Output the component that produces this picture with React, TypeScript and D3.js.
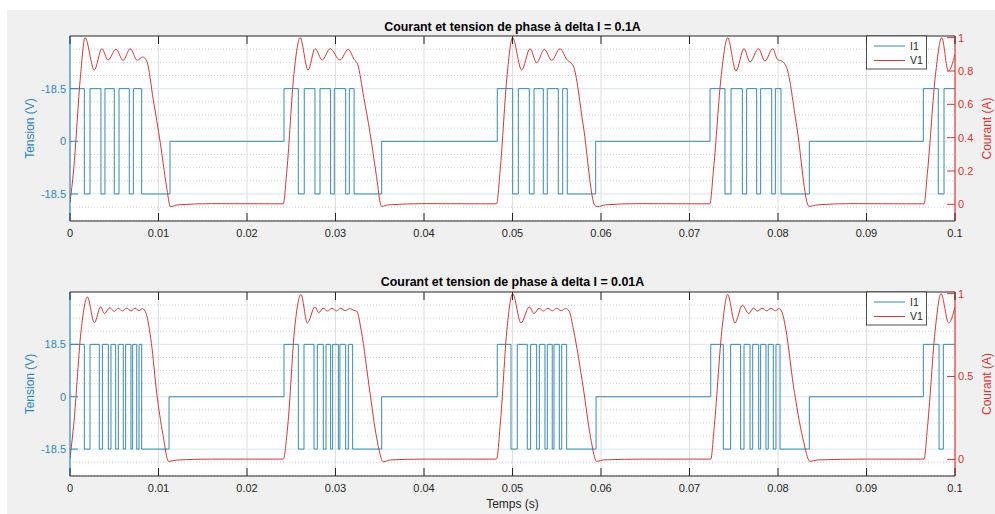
import React from 'react';
import * as d3 from 'd3';

type Pt = [number, number];

const xTickValues = [0, 0.01, 0.02, 0.03, 0.04, 0.05, 0.06, 0.07, 0.08, 0.09, 0.1];
const xTickLabels = ['0', '0.01', '0.02', '0.03', '0.04', '0.05', '0.06', '0.07', '0.08', '0.09', '0.1'];
const leftTickValues = [-18.5, 0, 18.5];
const topLeftTickLabels = ['-18.5', '0', '-18.5'];
const bottomLeftTickLabels = ['-18.5', '0', '18.5'];
const topRightTickValues = [0, 0.2, 0.4, 0.6, 0.8, 1];
const topRightTickLabels = ['0', '0.2', '0.4', '0.6', '0.8', '1'];
const bottomRightTickValues = [0, 0.5, 1];
const bottomRightTickLabels = ['0', '0.5', '1'];
const leftDomain: [number, number] = [-28, 37];
const rightDomain: [number, number] = [-0.1, 1.01];
const minorStep = 4.625;

const titles = ['Courant et tension de phase à delta I = 0.1A', 'Courant et tension de phase à delta I = 0.01A'];
const seriesNames = ['I1', 'V1'];

// I1 (blue) : level after each switching time
const i1Top: Pt[] = [
  [0, 18.5], [0.00162, -18.5], [0.00226, 18.5], [0.0035, -18.5], [0.00395, 18.5], [0.005, -18.5], [0.00554, 18.5], [0.0067, -18.5], [0.00716, 18.5], [0.0081, -18.5], [0.0113, 0],
  [0.02418, 18.5], [0.0258, -18.5], [0.02647, 18.5], [0.02768, -18.5], [0.02825, 18.5], [0.02945, -18.5], [0.02986, 18.5], [0.03115, -18.5], [0.03156, 18.5], [0.0321, -18.5], [0.03522, 0],
  [0.04828, 18.5], [0.05002, -18.5], [0.05066, 18.5], [0.0519, -18.5], [0.05243, 18.5], [0.05348, -18.5], [0.05393, 18.5], [0.05517, -18.5], [0.05567, 18.5], [0.05619, -18.5], [0.0594, 0],
  [0.07232, 18.5], [0.07401, -18.5], [0.07469, 18.5], [0.07597, -18.5], [0.07646, 18.5], [0.07759, -18.5], [0.07804, 18.5], [0.07929, -18.5], [0.0797, 18.5], [0.08034, -18.5], [0.08354, 0],
  [0.09642, 18.5], [0.09811, -18.5], [0.09876, 18.5], [0.1, 18.5],
];

const i1Bottom: Pt[] = [
  [0, 18.5], [0.00162, -18.5], [0.00226, 18.5], [0.00331, -18.5], [0.00366, 18.5], [0.00433, -18.5], [0.00463, 18.5], [0.00516, -18.5], [0.00546, 18.5], [0.00602, -18.5], [0.00629, 18.5], [0.00689, -18.5], [0.00708, 18.5], [0.00754, -18.5], [0.0078, 18.5], [0.0081, -18.5], [0.01119, 0],
  [0.02418, 18.5], [0.0258, -18.5], [0.02644, 18.5], [0.02757, -18.5], [0.02795, 18.5], [0.02862, -18.5], [0.02893, 18.5], [0.02945, -18.5], [0.02968, 18.5], [0.03032, -18.5], [0.0305, 18.5], [0.03115, -18.5], [0.03145, 18.5], [0.03194, -18.5], [0.03522, 0],
  [0.04828, 18.5], [0.04983, -18.5], [0.05054, 18.5], [0.05167, -18.5], [0.05205, 18.5], [0.05273, -18.5], [0.05303, 18.5], [0.05367, -18.5], [0.05393, 18.5], [0.05449, -18.5], [0.05469, 18.5], [0.05529, -18.5], [0.05556, 18.5], [0.05612, -18.5], [0.05944, 0],
  [0.0724, 18.5], [0.07382, -18.5], [0.07465, 18.5], [0.07578, -18.5], [0.07616, 18.5], [0.07684, -18.5], [0.07714, 18.5], [0.07782, -18.5], [0.07804, 18.5], [0.07864, -18.5], [0.0789, 18.5], [0.07947, -18.5], [0.07977, 18.5], [0.08023, -18.5], [0.08354, 0],
  [0.09642, 18.5], [0.0982, -18.5], [0.09868, 18.5], [0.1, 18.5],
];

// V1 (red) : points
const v1Top: Pt[] = [
  [0, 0.01], [0.0004, 0.2], [0.0012, 0.78], [0.0017, 1.0], [0.00275, 0.806], [0.0036, 0.934], [0.0043, 0.866], [0.0052, 0.93], [0.006, 0.864], [0.0068, 0.934], [0.0076, 0.864], [0.0082, 0.884], [0.0087, 0.855], [0.0094, 0.63], [0.0102, 0.37], [0.0109, 0.11], [0.01135, -0.014], [0.0122, -0.003], [0.016, 0.004], [0.0241, 0.003],
  [0.0245, 0.2], [0.0253, 0.78], [0.026, 1.0], [0.0269, 0.806], [0.0277, 0.934], [0.0285, 0.866], [0.0294, 0.934], [0.0305, 0.866], [0.03145, 0.93], [0.0321, 0.87], [0.0325, 0.84], [0.0332, 0.64], [0.0339, 0.43], [0.0346, 0.18], [0.0352, -0.012], [0.036, -0.003], [0.04, 0.004], [0.0482, 0.003],
  [0.0486, 0.2], [0.0494, 0.78], [0.05, 1.0], [0.05104, 0.806], [0.05198, 0.934], [0.05273, 0.85], [0.0536, 0.93], [0.05443, 0.864], [0.05537, 0.934], [0.05612, 0.87], [0.05687, 0.83], [0.058, 0.47], [0.0593, -0.006], [0.0596, -0.014], [0.0605, -0.003], [0.064, 0.004], [0.0723, 0.003],
  [0.0727, 0.2], [0.0736, 0.78], [0.07431, 1.0], [0.07525, 0.8], [0.07616, 0.934], [0.07684, 0.854], [0.07778, 0.934], [0.07853, 0.86], [0.0794, 0.934], [0.07993, 0.87], [0.08041, 0.86], [0.08098, 0.82], [0.08211, 0.47], [0.0835, -0.012], [0.0845, -0.003], [0.088, 0.004], [0.0965, 0.003],
  [0.0969, 0.2], [0.0978, 0.78], [0.0985, 1.0], [0.09925, 0.8], [0.1, 0.9],
];

const v1Bottom: Pt[] = [
  [0, 0.006], [0.0004, 0.2], [0.0013, 0.8], [0.00196, 0.98], [0.00275, 0.825], [0.00347, 0.92], [0.00388, 0.88], [0.0045, 0.915], [0.005, 0.893], [0.00546, 0.912], [0.0059, 0.895], [0.0064, 0.912], [0.0069, 0.896], [0.00734, 0.912], [0.0078, 0.898], [0.0082, 0.91], [0.0086, 0.88], [0.0092, 0.7], [0.0098, 0.4], [0.0105, 0.15], [0.01115, -0.012], [0.012, -0.004], [0.016, 0.002], [0.0241, 0.002],
  [0.0246, 0.2], [0.0254, 0.8], [0.0261, 0.995], [0.02682, 0.823], [0.02768, 0.92], [0.0281, 0.885], [0.0286, 0.912], [0.0291, 0.895], [0.0296, 0.912], [0.0301, 0.896], [0.0306, 0.912], [0.0311, 0.897], [0.0316, 0.91], [0.0321, 0.898], [0.0324, 0.895], [0.0329, 0.78], [0.0339, 0.4], [0.03465, 0.13], [0.0354, -0.014], [0.0362, -0.003], [0.04, 0.002], [0.0482, 0.002],
  [0.0486, 0.2], [0.0494, 0.8], [0.05002, 1.0], [0.05096, 0.823], [0.0519, 0.92], [0.05243, 0.88], [0.053, 0.912], [0.0535, 0.895], [0.054, 0.912], [0.0545, 0.896], [0.055, 0.912], [0.0555, 0.897], [0.056, 0.91], [0.0564, 0.895], [0.0569, 0.78], [0.058, 0.43], [0.0588, 0.14], [0.05951, -0.012], [0.0603, -0.003], [0.065, 0.002], [0.0724, 0.002],
  [0.0728, 0.2], [0.0737, 0.8], [0.07431, 0.995], [0.07514, 0.823], [0.07597, 0.93], [0.0767, 0.88], [0.0772, 0.912], [0.0777, 0.895], [0.0782, 0.912], [0.0787, 0.896], [0.0792, 0.912], [0.0797, 0.897], [0.0801, 0.91], [0.0804, 0.895], [0.0809, 0.78], [0.08173, 0.45], [0.0828, 0.13], [0.08362, -0.012], [0.0845, -0.003], [0.09, 0.002], [0.0965, 0.002],
  [0.0969, 0.2], [0.0978, 0.8], [0.09842, 1.0], [0.09929, 0.823], [0.1, 0.92],
];

const BLUE_AXIS = '#2f86c0';
const BLUE_LINE = '#3a8ab0';
const RED_AXIS = '#dc3232';
const RED_LINE = '#cc3a3a';
const TEXT = '#262626';
const FONT = '"Liberation Sans", Arial, Helvetica, sans-serif';

const LEFT = 70;
const RIGHT = 955;

interface PanelProps {
  id: string;
  top: number;
  bottom: number;
  title: string;
  titleY: number;
  leftLabels: string[];
  rightTicks: number[];
  rightLabels: string[];
  steps: Pt[];
  curve: Pt[];
  xLabel?: string;
}

function Panel(p: PanelProps) {
  const x = d3.scaleLinear().domain([0, 0.1]).range([LEFT, RIGHT]);
  const yL = d3.scaleLinear().domain(leftDomain).range([p.bottom, p.top]);
  const yR = d3.scaleLinear().domain(rightDomain).range([p.bottom, p.top]);
  const stepLine = d3.line<Pt>().x(d => x(d[0])).y(d => yL(d[1])).curve(d3.curveStepAfter);
  const redLine = d3.line<Pt>().x(d => x(d[0])).y(d => yR(d[1])).curve(d3.curveMonotoneX);
  const minors = d3.range(-6, 9).map(k => k * minorStep).filter((v, i) => (i - 6) % 4 !== 0 && v > leftDomain[0] && v < leftDomain[1]);
  const midY = (p.top + p.bottom) / 2;
  const tick = 8;
  const legX0 = 866.5, legX1 = 926.5;
  return (
    <g>
      <defs>
        <clipPath id={p.id}>
          <rect x={LEFT} y={p.top} width={RIGHT - LEFT} height={p.bottom - p.top} />
        </clipPath>
      </defs>
      <rect x={LEFT} y={p.top} width={RIGHT - LEFT} height={p.bottom - p.top} fill="#ffffff" />
      {minors.map((v, i) => (
        <line key={'m' + i} x1={LEFT} x2={RIGHT} y1={yL(v)} y2={yL(v)} stroke="#c4c4c4" strokeWidth={0.8} strokeDasharray="1 2" />
      ))}
      {xTickValues.slice(1, -1).map((v, i) => (
        <line key={'gx' + i} x1={x(v)} x2={x(v)} y1={p.top} y2={p.bottom} stroke="#dedede" strokeWidth={1} />
      ))}
      {leftTickValues.map((v, i) => (
        <line key={'gy' + i} x1={LEFT} x2={RIGHT} y1={yL(v)} y2={yL(v)} stroke="#d8e5ee" strokeWidth={1} />
      ))}
      <g clipPath={`url(#${p.id})`}>
        <path d={stepLine(p.steps) || ''} fill="none" stroke={BLUE_LINE} strokeWidth={1} />
        <path d={redLine(p.curve) || ''} fill="none" stroke={RED_LINE} strokeWidth={1} />
      </g>
      <line x1={LEFT} x2={RIGHT} y1={p.top} y2={p.top} stroke={TEXT} strokeWidth={1} />
      <line x1={LEFT} x2={RIGHT} y1={p.bottom} y2={p.bottom} stroke={TEXT} strokeWidth={1} />
      <line x1={LEFT} x2={LEFT} y1={p.top} y2={p.bottom} stroke={BLUE_AXIS} strokeWidth={1.2} />
      <line x1={RIGHT} x2={RIGHT} y1={p.top} y2={p.bottom} stroke={RED_AXIS} strokeWidth={1.2} />
      {xTickValues.map((v, i) => (
        <g key={'xt' + i}>
          <line x1={x(v)} x2={x(v)} y1={p.top} y2={p.top + tick} stroke={TEXT} strokeWidth={1} />
          <line x1={x(v)} x2={x(v)} y1={p.bottom} y2={p.bottom - tick} stroke={TEXT} strokeWidth={1} />
          <text x={x(v)} y={p.bottom + 16} textAnchor="middle" fontSize={11} fill={TEXT} fontFamily={FONT}>{xTickLabels[i]}</text>
        </g>
      ))}
      {leftTickValues.map((v, i) => (
        <g key={'yl' + i}>
          <line x1={LEFT} x2={LEFT + tick} y1={yL(v)} y2={yL(v)} stroke={BLUE_AXIS} strokeWidth={1} />
          <text x={LEFT - 4} y={yL(v)} dy="0.35em" textAnchor="end" fontSize={11} fill={BLUE_AXIS} fontFamily={FONT}>{p.leftLabels[i]}</text>
        </g>
      ))}
      {p.rightTicks.map((v, i) => (
        <g key={'yr' + i}>
          <line x1={RIGHT} x2={RIGHT - tick} y1={yR(v)} y2={yR(v)} stroke={RED_AXIS} strokeWidth={1} />
          <text x={RIGHT + 3} y={yR(v)} dy="0.35em" textAnchor="start" fontSize={11} fill={RED_AXIS} fontFamily={FONT}>{p.rightLabels[i]}</text>
        </g>
      ))}
      <text transform={`translate(34,${midY}) rotate(-90)`} textAnchor="middle" fontSize={12} fill={BLUE_AXIS} fontFamily={FONT}>Tension (V)</text>
      <text transform={`translate(991,${midY}) rotate(-90)`} textAnchor="middle" fontSize={12} fill={RED_AXIS} fontFamily={FONT}>Courant (A)</text>
      <text x={(LEFT + RIGHT) / 2} y={p.titleY} textAnchor="middle" fontSize={12.4} fontWeight="bold" fill="#000" fontFamily={FONT}>{p.title}</text>
      {p.xLabel && (
        <text x={(LEFT + RIGHT) / 2} y={p.bottom + 32} textAnchor="middle" fontSize={12} fill={TEXT} fontFamily={FONT}>{p.xLabel}</text>
      )}
      <rect x={legX0} y={p.top} width={legX1 - legX0} height={33} fill="#ffffff" stroke={TEXT} strokeWidth={0.8} />
      <line x1={874} x2={905} y1={p.top + 10} y2={p.top + 10} stroke={BLUE_LINE} strokeWidth={1} />
      <text x={910} y={p.top + 10} dy="0.35em" fontSize={10.5} fill={TEXT} fontFamily={FONT}>{seriesNames[0]}</text>
      <line x1={874} x2={905} y1={p.top + 24.5} y2={p.top + 24.5} stroke={RED_LINE} strokeWidth={1} />
      <text x={910} y={p.top + 24.5} dy="0.35em" fontSize={10.5} fill={TEXT} fontFamily={FONT}>{seriesNames[1]}</text>
    </g>
  );
}

export default function App() {
  return (
    <svg width={995} height={514} style={{ position: 'absolute', left: 0, top: 0, display: 'block' }}>
      <rect x={0} y={0} width={995} height={514} fill="#ffffff" />
      <rect x={7} y={10} width={988} height={504} fill="#f0f0f0" />
      <Panel id="clipTop" top={36} bottom={221} title={titles[0]} titleY={31}
        leftLabels={topLeftTickLabels} rightTicks={topRightTickValues} rightLabels={topRightTickLabels}
        steps={i1Top} curve={v1Top} />
      <Panel id="clipBottom" top={292} bottom={476} title={titles[1]} titleY={286}
        leftLabels={bottomLeftTickLabels} rightTicks={bottomRightTickValues} rightLabels={bottomRightTickLabels}
        steps={i1Bottom} curve={v1Bottom} xLabel="Temps (s)" />
    </svg>
  );
}
